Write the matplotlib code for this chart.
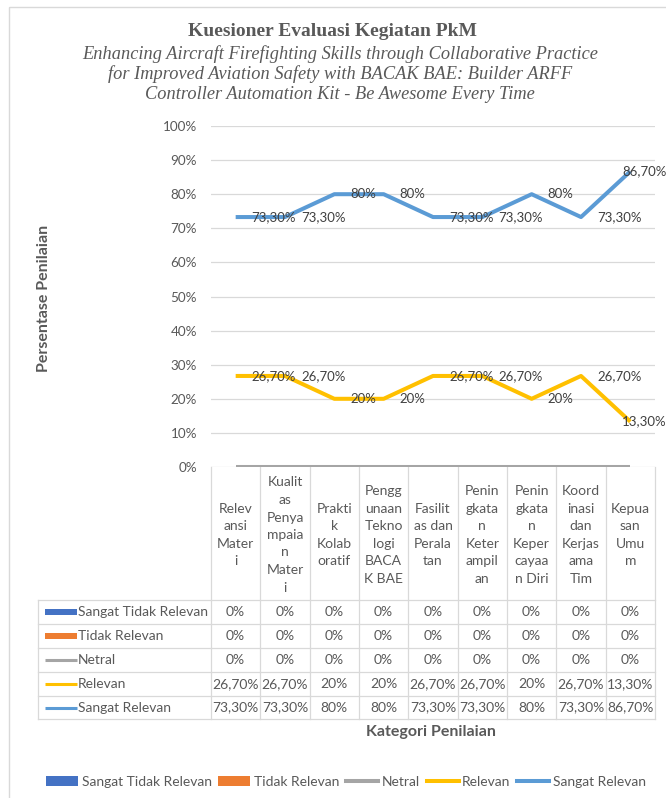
import matplotlib
matplotlib.use("Agg")
import matplotlib.pyplot as plt
from matplotlib.transforms import blended_transform_factory
from matplotlib.patches import Rectangle, Patch
from matplotlib.lines import Line2D

# ---------------- data ----------------
category_labels = [
    "Relev\nansi\nMater\ni",
    "Kualit\nas\nPenya\nmpaia\nn\nMater\ni",
    "Prakti\nk\nKolab\noratif",
    "Pengg\nunaan\nTekno\nlogi\nBACA\nK BAE",
    "Fasilit\nas dan\nPerala\ntan",
    "Penin\ngkata\nn\nKeter\nampil\nan",
    "Penin\ngkata\nn\nKeper\ncayaa\nn Diri",
    "Koord\ninasi\ndan\nKerjas\nama\nTim",
    "Kepua\nsan\nUmu\nm",
]
series_names = ["Sangat Tidak Relevan", "Tidak Relevan", "Netral", "Relevan", "Sangat Relevan"]
sangat_tidak_relevan = [0, 0, 0, 0, 0, 0, 0, 0, 0]
tidak_relevan = [0, 0, 0, 0, 0, 0, 0, 0, 0]
netral = [0, 0, 0, 0, 0, 0, 0, 0, 0]
relevan = [26.7, 26.7, 20, 20, 26.7, 26.7, 20, 26.7, 13.3]
sangat_relevan = [73.3, 73.3, 80, 80, 73.3, 73.3, 80, 73.3, 86.7]
y_ticks = [0, 10, 20, 30, 40, 50, 60, 70, 80, 90, 100]

title = "Kuesioner Evaluasi Kegiatan PkM"
subtitle = ("Enhancing Aircraft Firefighting Skills through Collaborative Practice\n"
            "for Improved Aviation Safety with BACAK BAE: Builder ARFF\n"
            "Controller Automation Kit - Be Awesome Every Time")
y_label = "Persentase Penilaian"
x_label = "Kategori Penilaian"

colors = ["#4472C4", "#ED7D31", "#A5A5A5", "#FFC000", "#5B9BD5"]
kinds = ["bar", "bar", "line", "line", "line"]
all_series = [sangat_tidak_relevan, tidak_relevan, netral, relevan, sangat_relevan]


def fmt(v):
    if abs(v - round(v)) < 1e-9:
        return "%d%%" % round(v)
    return ("%.2f" % v).replace(".", ",") + "%"


# ---------------- figure ----------------
W, H = 666, 798
fig = plt.figure(figsize=(W / 100, H / 100), dpi=100)
FONT = "Lato"
TXT = "#595959"
GRID = "#D9D9D9"
TS = 10  # table / legend font size

ov = fig.add_axes([0, 0, 1, 1], zorder=0)
ov.set_xlim(0, W)
ov.set_ylim(H, 0)
ov.axis("off")

# chart border
ov.add_patch(Rectangle((9, 7), W, H, fill=False, edgecolor=GRID, lw=1.0))

left, right, top, bottom = 211, 655, 126, 467
ax = fig.add_axes([left / W, 1 - bottom / H, (right - left) / W, (bottom - top) / H], zorder=2)
ax.patch.set_alpha(0)
n = len(category_labels)
xs = list(range(n))
ax.set_xlim(-0.5, n - 0.5)
ax.set_ylim(0, 100)
ax.set_yticks(y_ticks)
ax.set_yticklabels([fmt(v) for v in y_ticks], fontfamily=FONT, fontsize=9.7, color=TXT)
ax.tick_params(axis="y", length=0, pad=10)
ax.set_xticks([])
for s in ax.spines.values():
    s.set_visible(False)
ax.grid(axis="y", color=GRID, lw=0.9)
ax.set_axisbelow(True)

handles = []
for name, vals, col, kind in zip(series_names, all_series, colors, kinds):
    if kind == "bar":
        ax.bar(xs, vals, width=0.6, color=col, label=name)
        handles.append(Patch(facecolor=col, label=name))
    else:
        ax.plot(xs, vals, color=col, lw=2.9, solid_joinstyle="round",
                solid_capstyle="butt", label=name, zorder=3)
        handles.append(Line2D([], [], color=col, lw=2.9, label=name))

# data labels
for vals in (relevan, sangat_relevan):
    for i, v in enumerate(vals):
        dx = 16 if i < n - 1 else -8
        ax.annotate(fmt(v), (i, v), xytext=(dx, 0), textcoords="offset pixels",
                    ha="left", va="center", fontfamily=FONT, fontsize=9.5,
                    color="#404040", zorder=5, annotation_clip=False)

# ---------------- data table ----------------
bt = blended_transform_factory(ax.transData, ov.transData)
row_tops = [600, 624, 648, 672, 696, 719]
tab_left = 38
for i in range(n + 1):
    ov.plot([i - 0.5, i - 0.5], [bottom, row_tops[-1]], color=GRID, lw=0.9, transform=bt)
ov.plot([tab_left, tab_left], [row_tops[0], row_tops[-1]], color=GRID, lw=0.9)
for y in row_tops:
    ov.plot([tab_left, right], [y, y], color=GRID, lw=0.9)

# header labels
for i, lab in enumerate(category_labels):
    ov.text(i, 535, lab, transform=bt, ha="center", va="center", fontfamily=FONT,
            fontsize=TS, color=TXT, linespacing=1.55, multialignment="center")

# rows
for r, (name, vals, col, kind) in enumerate(zip(series_names, all_series, colors, kinds)):
    yc = (row_tops[r] + row_tops[r + 1]) / 2
    if kind == "bar":
        ov.add_patch(Rectangle((45, yc - 3), 32, 6, facecolor=col, edgecolor="none"))
    else:
        ov.plot([45, 77], [yc, yc], color=col, lw=2.2, solid_capstyle="butt")
    ov.text(78, yc, name, ha="left", va="center", fontfamily=FONT, fontsize=TS, color=TXT)
    for i, v in enumerate(vals):
        ov.text(i, yc, fmt(v), transform=bt, ha="center", va="center",
                fontfamily=FONT, fontsize=TS, color=TXT)

# ---------------- titles / axis labels ----------------
ov.text(333, 32, title, ha="center", va="center", fontfamily="Liberation Serif",
        fontweight="bold", fontsize=14, color=TXT)
ov.text(340, 74, subtitle, ha="center", va="center", fontfamily="Liberation Serif",
        style="italic", fontsize=13.2, color=TXT, linespacing=1.22)
ov.text(44, 298, y_label, ha="center", va="center", rotation=90, fontfamily=FONT,
        fontweight="bold", fontsize=11.5, color=TXT)
ov.text(431, 732, x_label, ha="center", va="center", fontfamily=FONT,
        fontweight="bold", fontsize=11.5, color=TXT)

# ---------------- legend ----------------
leg = fig.legend(handles=handles, loc="center", bbox_to_anchor=(346 / W, 1 - 782 / H),
                 ncol=5, frameon=False, handlelength=2.3, handletextpad=0.25,
                 columnspacing=0.5, prop={"family": FONT, "size": TS})
for t in leg.get_texts():
    t.set_color(TXT)

fig.savefig("out.png", dpi=100)
